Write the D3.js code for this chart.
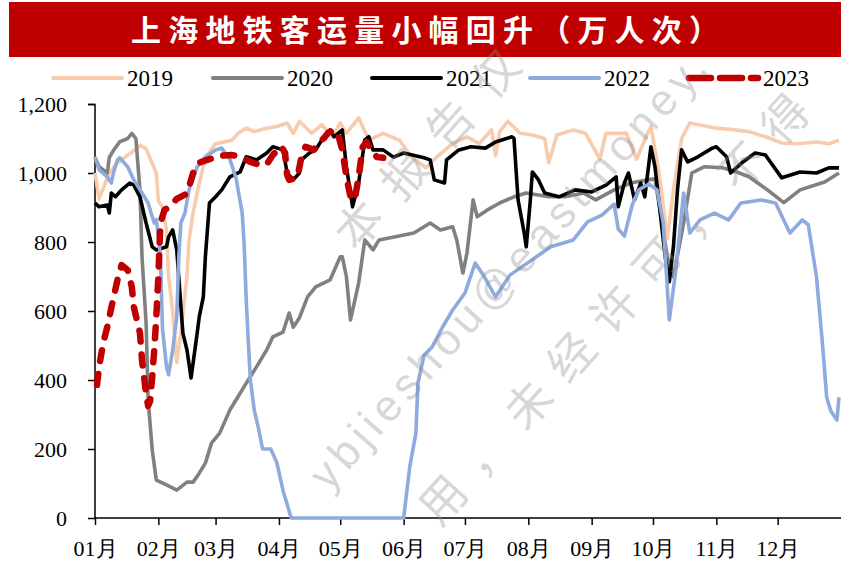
<!DOCTYPE html>
<html><head><meta charset="utf-8">
<script src="https://cdn.jsdelivr.net/npm/d3@7"></script>
<style>
html,body{margin:0;padding:0;background:#fff;}
svg{display:block;}
.serif{font-family:"Liberation Serif","Times New Roman",Times,"DejaVu Serif",serif;}
</style></head>
<body><svg id="chart" width="841" height="561"></svg>
<script>
// ---------- DATA ----------
const title = "上海地铁客运量小幅回升（万人次）";
const seriesNames = ["2019","2020","2021","2022","2023"];
const yTicks = [0,200,400,600,800,1000,1200];
const monthLabels = ["01月","02月","03月","04月","05月","06月","07月","08月","09月","10月","11月","12月"];

const d2019 = ["01-01","01-03","01-08","01-12","01-19","01-23","01-26","01-31","02-01","02-03","02-05","02-06","02-08","02-10","02-12","02-15","02-16","02-18","02-21","02-24","03-01","03-05","03-09","03-12","03-16","03-20","03-26","03-31","04-05","04-08","04-11","04-17","04-22","04-27","05-01","05-04","05-10","05-15","05-22","05-30","06-05","06-12","06-17","06-25","07-02","07-08","07-14","07-16","07-18","07-22","07-28","08-03","08-09","08-11","08-15","08-23","08-29","09-05","09-08","09-18","09-23","09-28","09-30","10-04","10-08","10-11","10-15","10-19","11-01","11-10","11-17","11-25","12-03","12-10","12-20","12-26","12-31"];
const v2019 = [1000,925,1000,1030,1060,1080,1070,1000,920,900,835,700,600,450,535,700,805,885,970,1045,1085,1090,1095,1115,1130,1120,1130,1135,1145,1115,1150,1115,1140,1105,1145,1115,1160,1095,1115,1095,1045,1015,1045,1085,1105,1085,1125,1050,1120,1150,1115,1110,1100,1030,1110,1125,1115,1040,1115,1115,1040,1110,1135,1000,810,950,1100,1145,1130,1125,1120,1105,1087,1085,1090,1085,1095];

const d2020 = ["01-01","01-03","01-07","01-08","01-10","01-13","01-17","01-19","01-21","01-23","01-24","01-26","01-27","01-29","01-31","02-05","02-10","02-15","02-18","02-21","02-24","02-27","03-03","03-08","03-11","03-16","03-21","03-26","03-29","04-03","04-06","04-08","04-11","04-15","04-19","04-26","05-01","05-02","05-04","05-06","05-10","05-13","05-17","05-20","05-28","06-06","06-14","06-19","06-25","06-27","06-30","07-02","07-05","07-07","07-12","07-18","07-25","07-31","08-11","08-19","08-28","09-03","09-12","09-20","09-28","10-02","10-08","10-11","10-16","10-20","10-26","11-04","11-11","11-17","11-26","12-04","12-12","12-24","12-31"];
const v2020 = [1045,1018,1000,1045,1065,1090,1100,1115,1100,950,757,565,342,197,110,96,81,104,104,130,159,217,246,313,342,391,438,487,525,539,594,553,580,641,670,690,757,757,700,574,681,806,777,806,815,826,855,835,844,806,710,768,922,873,893,913,931,942,931,931,942,922,951,971,980,983,757,699,855,1000,1018,1015,1003,989,951,914,951,974,1000];

const d2021 = ["01-01","01-03","01-07","01-08","01-09","01-11","01-14","01-18","01-20","01-23","01-26","01-29","01-31","02-05","02-06","02-08","02-10","02-13","02-15","02-17","02-20","02-21","02-23","02-24","02-26","03-01","03-04","03-08","03-13","03-16","03-21","03-26","03-29","04-03","04-05","04-08","04-11","04-12","04-16","04-19","04-22","04-26","04-28","05-02","05-04","05-07","05-10","05-13","05-15","05-17","05-22","05-27","06-01","06-11","06-14","06-16","06-21","06-22","06-28","07-04","07-11","07-16","07-24","07-25","07-27","07-30","07-31","08-02","08-03","08-06","08-09","08-16","08-24","09-01","09-08","09-13","09-14","09-17","09-19","09-22","09-25","09-27","09-30","10-02","10-07","10-09","10-11","10-13","10-15","10-18","10-23","10-30","11-01","11-06","11-08","11-14","11-20","11-25","12-03","12-12","12-20","12-26","12-31"];
const v2021 = [913,902,907,884,942,931,951,971,965,931,855,786,777,786,815,835,777,536,487,406,536,583,641,757,913,931,951,989,1003,1047,1038,1058,1076,1067,1000,980,1000,1038,1058,1067,1096,1125,1105,1125,1018,902,971,1096,1105,1067,1067,1046,1058,1044,1038,980,971,1038,1067,1076,1072,1090,1105,1100,922,826,786,922,1003,980,942,931,951,945,965,989,902,971,1000,922,971,931,1076,1018,757,685,786,951,1067,1032,1047,1072,1076,1047,1000,1032,1058,1052,986,1003,1000,1015,1015];

const d2022 = ["01-01","01-03","01-07","01-09","01-10","01-12","01-13","01-17","01-20","01-24","01-27","01-29","01-30","01-31","02-01","02-02","02-03","02-05","02-06","02-08","02-10","02-11","02-12","02-14","02-16","02-20","02-24","03-01","03-04","03-08","03-11","03-14","03-15","03-16","03-18","03-20","03-22","03-24","03-28","03-31","04-03","04-07","06-01","06-04","06-07","06-08","06-11","06-15","06-20","06-25","07-01","07-06","07-10","07-16","07-23","08-02","08-12","08-23","08-30","09-06","09-12","09-14","09-17","09-21","09-24","09-29","10-03","10-06","10-09","10-12","10-16","10-19","10-24","10-31","11-07","11-13","11-23","11-30","12-07","12-13","12-16","12-20","12-23","12-25","12-27","12-30","12-31"];
const v2022 = [1047,1009,989,971,1000,1038,1044,1018,980,942,913,873,855,865,815,760,550,438,415,487,583,757,855,884,951,1018,1047,1067,1072,1040,985,885,790,630,400,310,260,200,200,160,80,0,0,148,246,391,472,496,553,603,652,739,704,641,704,745,786,806,858,878,910,838,817,910,951,968,951,855,574,710,942,826,864,884,864,913,922,913,826,864,850,699,500,350,310,284,350];

const d2023 = ["01-02","01-03","01-05","01-07","01-09","01-12","01-14","01-17","01-19","01-20","01-23","01-24","01-26","01-27","01-28","01-29","01-30","01-31","02-01","02-02","02-04","02-06","02-10","02-15","02-18","02-21","02-26","03-03","03-09","03-13","03-18","03-23","03-26","03-29","04-02","04-04","04-05","04-06","04-10","04-12","04-14","04-18","04-20","04-23","04-25","04-28","04-30","05-02","05-04","05-06","05-08","05-10","05-12","05-14","05-16","05-19","05-22"];
const v2023 = [386,438,507,554,610,690,733,719,670,612,536,458,360,325,340,409,487,583,700,855,893,900,925,940,1000,1030,1040,1050,1052,1047,1032,1023,1025,1052,1078,1058,995,980,986,1046,1076,1067,1087,1101,1116,1125,1110,1067,989,931,920,989,1076,1090,1067,1046,1044];

const watermarkLines = ["本报告仅", "ybjieshou@eastmoney.", "用，未经许可，不得"];

// ---------- CHART ----------
const svg = d3.select("#chart");
const W = 841, H = 561;
const parse = s => new Date(2019, +s.slice(0,2) - 1, +s.slice(3));

const x = d3.scaleTime().domain([new Date(2019,0,1), new Date(2020,0,1)]).range([95, 841]);
const y = d3.scaleLinear().domain([0,1200]).range([518, 104]);

// title bar
svg.append("rect").attr("x",9).attr("y",2).attr("width",W-9).attr("height",55).attr("fill","#C00000");
svg.append("text").attr("x",131).attr("y",41)
  .attr("textLength",588).attr("lengthAdjust","spacing")
  .style("font-family","'Noto Sans CJK SC','Noto Sans CJK TC',sans-serif")
  .attr("font-weight",700).attr("font-size",30).attr("fill","#fff").text(title);

const series = [
  {name:seriesNames[0], dates:d2019, values:v2019, color:"#F8CBAD", width:3.6, dash:null},
  {name:seriesNames[1], dates:d2020, values:v2020, color:"#808080", width:3.6, dash:null},
  {name:seriesNames[2], dates:d2021, values:v2021, color:"#000000", width:3.6, dash:null},
  {name:seriesNames[3], dates:d2022, values:v2022, color:"#8FAADC", width:3.6, dash:null},
  {name:seriesNames[4], dates:d2023, values:v2023, color:"#C00000", width:6.5, dash:"11,13"}
];

// axes
const yAxis = d3.axisLeft(y).tickValues(yTicks).tickFormat(d3.format(",")).tickSize(7).tickPadding(21);
const gy = svg.append("g").attr("transform","translate(95,0)").call(yAxis);
const monthTicks = d3.range(12).map(m => new Date(2019, m, 1));
const xAxis = d3.axisBottom(x).tickValues(monthTicks).tickFormat((d,i) => monthLabels[i]).tickSize(7).tickPadding(15);
const gx = svg.append("g").attr("transform","translate(0,518)").call(xAxis);
[gx, gy].forEach(g => {
  g.attr("font-family", null).attr("font-size", null);
  g.select(".domain").attr("stroke","#000").attr("stroke-width",1.5);
  g.selectAll(".tick line").attr("stroke","#000").attr("stroke-width",1.5);
  g.selectAll(".tick text").attr("class","serif").attr("fill","#000").style("font-size","22px");
});
gy.select(".domain").attr("d","M-7,104.5H0V518");
gx.select(".domain").attr("d","M95,0H841");

// lines
const line = d3.line().x(d => x(d[0])).y(d => y(d[1]));
const plot = svg.append("g");
series.forEach(s => {
  const pts = s.dates.map((d,i) => [parse(d), s.values[i]]);
  const p = plot.append("path").datum(pts).attr("d", line)
    .attr("fill","none").attr("stroke", s.color).attr("stroke-width", s.width)
    .attr("stroke-linejoin","round").attr("stroke-linecap", s.dash ? "round" : "butt");
  if (s.dash) p.attr("stroke-dasharray", s.dash);
});

// legend
const legendX = [51, 211, 370, 528, 687];
const lg = svg.append("g");
series.forEach((s,i) => {
  const x0 = legendX[i];
  const l = lg.append("line").attr("x1",x0+2).attr("x2",x0+71).attr("y1",78).attr("y2",78)
    .attr("stroke",s.color).attr("stroke-width", s.dash ? 6.5 : 4)
    .attr("stroke-linecap","round");
  if (s.dash) l.attr("stroke-dasharray","22,9");
  lg.append("text").attr("class","serif").attr("x",x0+76).attr("y",86)
    .style("font-size","23px").attr("fill","#000").text(s.name);
});

// watermark
const ang = -48, rad = ang*Math.PI/180;
const dx = Math.cos(rad), dy = Math.sin(rad), nx = -dy, ny = dx;
const wmSpec = [
  {t:50, off:434, size:46, ls:22, fam:"'Noto Sans CJK SC',sans-serif"},
  {t:-146, off:574, size:44, ls:6, fam:"'Liberation Sans',Arial,sans-serif"},
  {t:-98, off:680, size:46, ls:18, fam:"'Noto Sans CJK SC',sans-serif"}
];
const wm = svg.append("g").attr("pointer-events","none");
watermarkLines.forEach((txt,i) => {
  const s = wmSpec[i];
  const px = s.t*dx + s.off*nx, py = s.t*dy + s.off*ny;
  wm.append("text").attr("transform",`translate(${px},${py}) rotate(${ang})`)
    .style("font-family",s.fam).attr("font-size",s.size).attr("letter-spacing",s.ls)
    .attr("fill","#8c8c8c").attr("fill-opacity",0.36).text(txt);
});
</script>
</body></html>
